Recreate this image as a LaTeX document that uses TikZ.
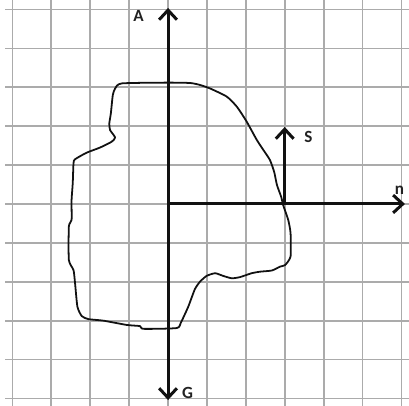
\documentclass[tikz,border=0pt]{standalone}
\usepackage{fontspec}
\setmainfont{Carlito}
\usepackage{tikz}
\usetikzlibrary{arrows.meta}
\definecolor{gGrid}{HTML}{ABABAB}
\definecolor{gInk}{HTML}{111111}
\definecolor{gText}{HTML}{222222}
\tikzset{
  gridline/.style={gGrid, line width=1.3pt},
  axisline/.style={gInk, line width=2.2pt, -{Straight Barb[length=7pt,width=13pt]}},
  outline/.style={gInk, line width=1.3pt, line join=round},
  letter/.style={gText, font=\bfseries\fontsize{12.5}{14}\selectfont, inner sep=0pt}
}
\begin{document}
\begin{tikzpicture}
\useasboundingbox (-4.32,-5.19) rectangle (6.195,5.244);
% squared paper
\foreach \x in {-4,...,6}{\draw[gridline] (\x,-5.19) -- (\x,5.244);}
\foreach \y in {-5,...,5}{\draw[gridline] (-4.19,\y) -- (6.195,\y);}
% closed outline
\draw[outline] plot[smooth cycle, tension=0.35] coordinates {
  (-1.19,3.10) (-0.03,3.12) (0.57,3.11) (0.82,3.06) (1.08,2.97) (1.51,2.76)
  (1.77,2.50) (2.02,2.12) (2.28,1.65) (2.45,1.39) (2.62,1.13) (2.73,0.82)
  (2.80,0.49) (2.91,0.18) (2.96,-0.03) (3.09,-0.41) (3.15,-0.75) (3.15,-1.35)
  (3.01,-1.57) (2.88,-1.61) (2.67,-1.71) (2.37,-1.74) (2.15,-1.78) (1.85,-1.88)
  (1.64,-1.91) (1.42,-1.85) (1.21,-1.78) (0.99,-1.85) (0.82,-2.00) (0.69,-2.19)
  (0.52,-2.64) (0.33,-3.05) (0.22,-3.19) (-0.63,-3.21) (-0.72,-3.14) (-1.06,-3.11)
  (-1.66,-3.00) (-2.05,-2.96) (-2.22,-2.88) (-2.33,-2.64) (-2.39,-2.04) (-2.43,-1.70)
  (-2.55,-1.44) (-2.55,-0.58) (-2.48,-0.41) (-2.48,0.10) (-2.45,0.53) (-2.43,1.05)
  (-2.39,1.15) (-2.09,1.32) (-1.75,1.45) (-1.45,1.60) (-1.36,1.71) (-1.49,1.90)
  (-1.51,2.07) (-1.47,2.33) (-1.42,2.80) (-1.36,2.97)
};
% axes
\coordinate (O) at (0,0);
\coordinate (Atip) at (0,5.04);
\coordinate (Gtip) at (0,-5.04);
\coordinate (ntip) at (6.09,0);
\coordinate (Sfoot) at (3,0);
\coordinate (Stip) at (3,1.98);
\draw[axisline] (O) -- (Atip);
\draw[axisline] (O) -- (Gtip);
\draw[axisline] (O) -- (ntip);
\draw[axisline] (Sfoot) -- (Stip);
% letters
\node[letter] (Alab) at (-0.76,4.83) {A};
\node[letter] (Glab) at (0.50,-4.85) {G};
\node[letter] (Slab) at (3.61,1.73) {S};
\node[letter] (nlab) at (5.95,0.36) {n};
\end{tikzpicture}
\end{document}
